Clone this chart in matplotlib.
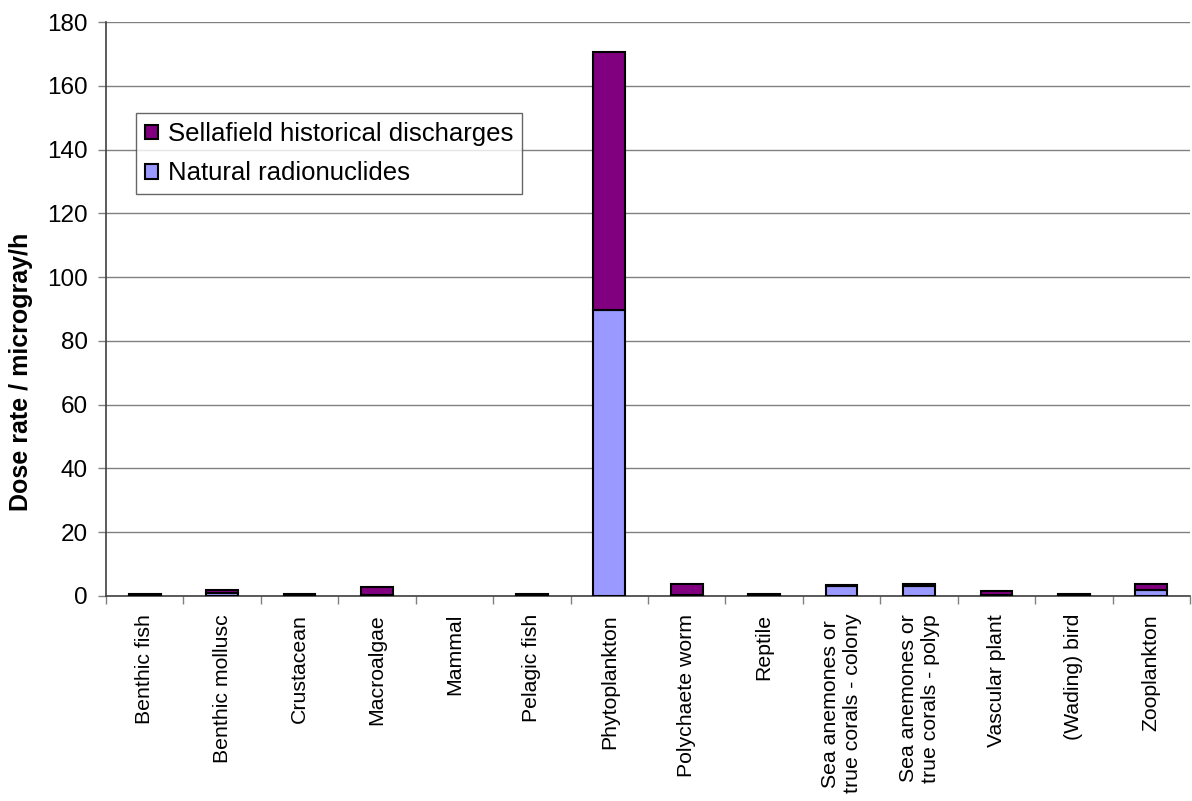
import numpy as np
import matplotlib.pyplot as plt

plt.rcParams['font.family'] = ['Liberation Sans', 'DejaVu Sans']

categories = ["Benthic fish", "Benthic mollusc", "Crustacean", "Macroalgae",
              "Mammal", "Pelagic fish", "Phytoplankton", "Polychaete worm",
              "Reptile", "Sea anemones or\ntrue corals - colony",
              "Sea anemones or\ntrue corals - polyp", "Vascular plant",
              "(Wading) bird", "Zooplankton"]
natural = [0.2, 1.0, 0.2, 0.3, 0.0, 0.2, 89.7, 0.3, 0.2, 3.2, 3.0, 0.3, 0.2, 1.8]
sellafield = [0.5, 1.0, 0.5, 2.4, 0.0, 0.5, 81.0, 3.5, 0.4, 0.1, 0.8, 1.2, 0.4, 2.0]

fig = plt.figure(figsize=(11.92, 8.01), dpi=100)
ax = fig.add_axes([0.0889, 0.256, 0.9095, 0.7165])

x = np.arange(len(categories))
b1 = ax.bar(x, natural, width=0.41, color="#9999FF", edgecolor="black", linewidth=1.5,
            label="Natural radionuclides", zorder=3)
b2 = ax.bar(x, sellafield, width=0.41, bottom=natural, color="#800080", edgecolor="black",
            linewidth=1.5, label="Sellafield historical discharges", zorder=3)
# no outline for empty bars (Mammal)
for p in list(b1) + list(b2):
    if p.get_height() == 0:
        p.set_linewidth(0)

ax.set_xlim(-0.5, len(categories) - 0.5)
ax.set_ylim(0, 180)
ax.set_yticks(range(0, 181, 20))
ax.yaxis.grid(True, color="#808080", linewidth=1)
ax.set_axisbelow(True)

ax.set_xticks(x)
ax.set_xticklabels(categories, rotation=90, fontsize=15.3, va="top", ha="center",
                   multialignment="center")
ax.tick_params(axis="x", length=0, pad=13)
ax.set_xticks(np.arange(-0.5, len(categories), 1), minor=True)
ax.tick_params(axis="x", which="minor", length=6, color="#808080", width=1)
ax.tick_params(axis="y", labelsize=17.5, length=6, color="#808080", width=1, pad=7)

ax.spines["top"].set_visible(False)
ax.spines["right"].set_visible(False)
ax.spines["left"].set_color("#404040")
ax.spines["bottom"].set_color("#404040")
ax.spines["left"].set_linewidth(1.2)
ax.spines["bottom"].set_linewidth(1.2)

ax.set_ylabel("Dose rate / microgray/h", fontsize=18, fontweight="bold")
ax.yaxis.set_label_coords(-0.067, 0.39)

leg = ax.legend(handles=[b2, b1], loc="upper left", bbox_to_anchor=(0.0277, 0.8415),
                fontsize=18.5, frameon=True, fancybox=False, edgecolor="#404040",
                handlelength=0.5, handleheight=0.5, handletextpad=0.4,
                borderpad=0.35, labelspacing=0.6, borderaxespad=0)
leg.get_frame().set_linewidth(1)

fig.savefig("out.png", dpi=100)
